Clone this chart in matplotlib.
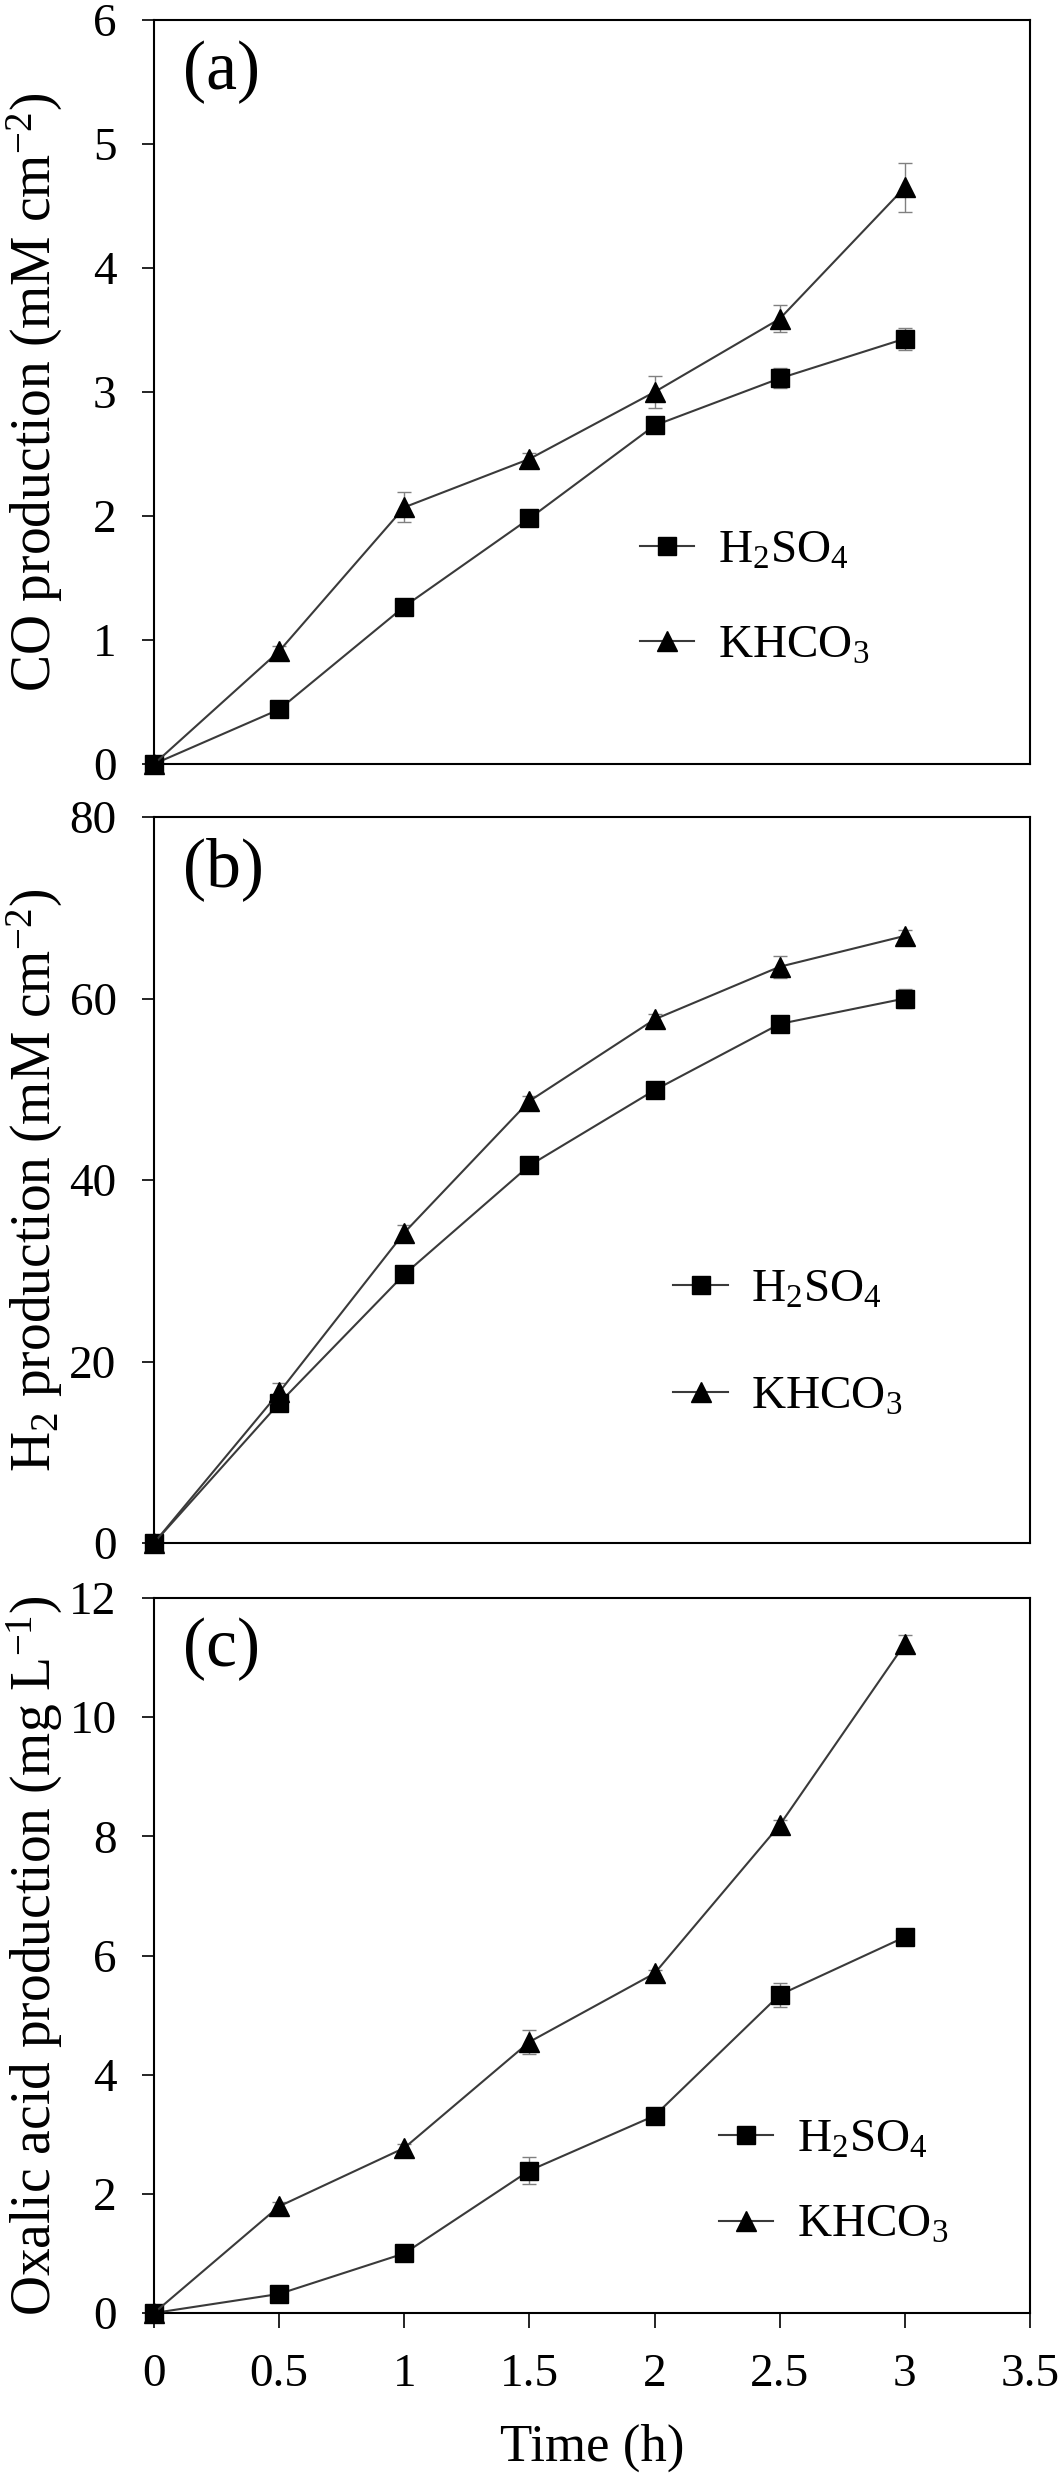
import matplotlib
matplotlib.use("Agg")
import matplotlib.pyplot as plt

plt.rcParams["font.family"] = ["Liberation Serif", "DejaVu Serif"]
plt.rcParams["mathtext.fontset"] = "custom"
plt.rcParams["mathtext.rm"] = "Liberation Serif"
plt.rcParams["mathtext.it"] = "Liberation Serif:italic"

time_h = [0, 0.5, 1, 1.5, 2, 2.5, 3]

co_h2so4 = [0, 0.44, 1.27, 1.98, 2.73, 3.11, 3.43]
co_h2so4_err = [0, 0.03, 0.04, 0.04, 0.05, 0.08, 0.09]
co_khco3 = [0, 0.91, 2.07, 2.46, 3.00, 3.59, 4.65]
co_khco3_err = [0, 0.04, 0.12, 0.05, 0.13, 0.11, 0.20]

h2_h2so4 = [0, 15.4, 29.6, 41.6, 49.9, 57.2, 60.0]
h2_h2so4_err = [0, 0.5, 0.6, 0.6, 0.6, 0.6, 1.0]
h2_khco3 = [0, 16.6, 34.2, 48.7, 57.7, 63.5, 66.9]
h2_khco3_err = [0, 1.0, 0.8, 0.6, 0.6, 1.2, 0.6]

ox_h2so4 = [0, 0.32, 1.00, 2.39, 3.31, 5.34, 6.31]
ox_h2so4_err = [0, 0.05, 0.06, 0.23, 0.08, 0.20, 0.06]
ox_khco3 = [0, 1.79, 2.77, 4.55, 5.70, 8.19, 11.23]
ox_khco3_err = [0, 0.08, 0.06, 0.20, 0.06, 0.08, 0.15]

x_ticks = [0, 0.5, 1, 1.5, 2, 2.5, 3, 3.5]
x_ticklabels = ["0", "0.5", "1", "1.5", "2", "2.5", "3", "3.5"]

panels = [
    dict(tag="(a)", h2so4=co_h2so4, h2so4_err=co_h2so4_err,
         khco3=co_khco3, khco3_err=co_khco3_err,
         ylim=6, yticks=[0, 1, 2, 3, 4, 5, 6],
         ylabel="CO production (mM cm$^{-2}$)",
         rect=[154, 20, 1030, 764], leg=(0.555, 0.222, 1.1)),
    dict(tag="(b)", h2so4=h2_h2so4, h2so4_err=h2_h2so4_err,
         khco3=h2_khco3, khco3_err=h2_khco3_err,
         ylim=80, yticks=[0, 20, 40, 60, 80],
         ylabel="H$_2$ production (mM cm$^{-2}$)",
         rect=[154, 817, 1030, 1543], leg=(0.593, 0.275, 1.35)),
    dict(tag="(c)", h2so4=ox_h2so4, h2so4_err=ox_h2so4_err,
         khco3=ox_khco3, khco3_err=ox_khco3_err,
         ylim=12, yticks=[0, 2, 4, 6, 8, 10, 12],
         ylabel="Oxalic acid production (mg L$^{-1}$)",
         rect=[154, 1598, 1030, 2313], leg=(0.645, 0.182, 0.9)),
]

W, H = 1058, 2481
fig = plt.figure(figsize=(W / 100, H / 100), dpi=100)

line_col = "#3a3a3a"
err_col = "#808080"

for i, p in enumerate(panels):
    x0, y0, x1, y1 = p["rect"]
    ax = fig.add_axes([x0 / W, 1 - y1 / H, (x1 - x0) / W, (y1 - y0) / H])

    # error bars first, then lines + markers on top
    ax.errorbar(time_h, p["h2so4"], yerr=p["h2so4_err"], fmt="none", ecolor=err_col,
                elinewidth=1, capsize=5, clip_on=False, zorder=2)
    ax.errorbar(time_h, p["khco3"], yerr=p["khco3_err"], fmt="none", ecolor=err_col,
                elinewidth=1, capsize=5, clip_on=False, zorder=2)
    ax.plot(time_h, p["h2so4"], "-s", color=line_col, lw=1.5, mfc="black", mec="black",
            ms=12.5, clip_on=False, zorder=3, label="H$_2$SO$_4$")
    ax.plot(time_h, p["khco3"], "-^", color=line_col, lw=1.5, mfc="black", mec="black",
            ms=14, clip_on=False, zorder=3, label="KHCO$_3$")

    ax.set_xlim(0, 3.5)
    ax.set_ylim(0, p["ylim"])
    ax.set_yticks(p["yticks"])
    ax.set_yticklabels([str(v) for v in p["yticks"]])
    ax.tick_params(axis="y", direction="out", length=9, width=1.2, pad=18, labelsize=34)

    if i == 2:
        ax.set_xticks(x_ticks)
        ax.set_xticklabels(x_ticklabels)
        ax.tick_params(axis="x", direction="out", length=11, width=1.2, pad=18, labelsize=34)
        ax.set_xlabel("Time (h)", fontsize=38, labelpad=20)
    else:
        ax.set_xticks([])

    for s in ax.spines.values():
        s.set_linewidth(1.5)

    ax.set_ylabel(p["ylabel"], fontsize=40)
    ax.yaxis.set_label_coords(-0.102, 0.5)

    ax.text(0.033, 0.972, p["tag"], transform=ax.transAxes, fontsize=50,
            ha="left", va="top")

    lx, ly, sp = p["leg"]
    ax.legend(loc="center left", bbox_to_anchor=(lx, ly), frameon=False,
              fontsize=34, handlelength=1.15, handletextpad=0.5, borderpad=0,
              borderaxespad=0, labelspacing=sp, numpoints=1)

fig.savefig("out.png", dpi=100)
